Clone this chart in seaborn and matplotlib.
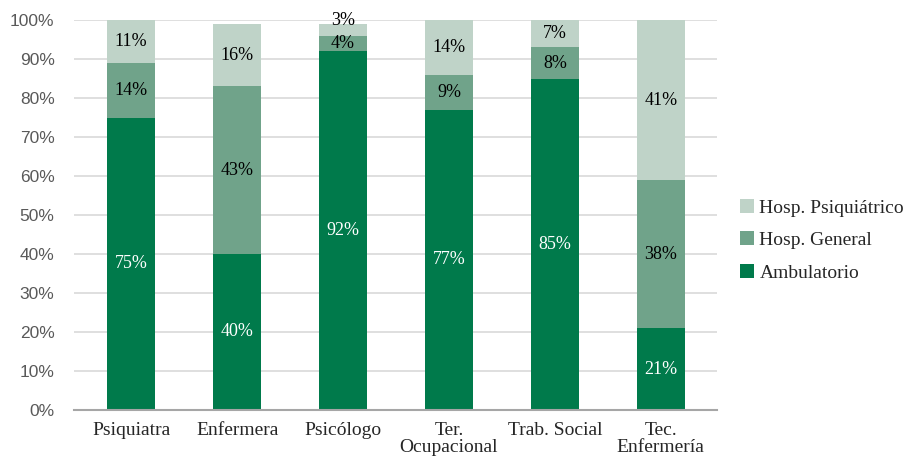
import pandas as pd
import matplotlib
matplotlib.use("Agg")
import matplotlib.pyplot as plt
import seaborn as sns
from matplotlib.patches import Patch
from matplotlib.ticker import PercentFormatter

# Data (percent of each profession)
categories = ["Psiquiatra", "Enfermera", "Psicólogo", "Ter.\nOcupacional",
              "Trab. Social", "Tec.\nEnfermería"]
ambulatorio = [75, 40, 92, 77, 85, 21]
hosp_general = [14, 43, 4, 9, 8, 38]
hosp_psiquiatrico = [11, 16, 3, 14, 7, 41]

series_names = ["Ambulatorio", "Hosp. General", "Hosp. Psiquiátrico"]
colors = ["#007A4B", "#70A38A", "#BFD3C8"]
label_colors = ["white", "black", "black"]

df = pd.DataFrame({
    "cat": categories,
    "Ambulatorio": ambulatorio,
    "Hosp. General": hosp_general,
    "Hosp. Psiquiátrico": hosp_psiquiatrico,
})

sns.set_style("white")
serif = ["Liberation Serif", "DejaVu Serif"]

fig = plt.figure(figsize=(9.18, 4.68), dpi=100)
ax = fig.add_axes([0.0806, 0.124, 0.7004, 0.833])

# stacked bars: draw cumulative totals from top layer down
cum = df[series_names].cumsum(axis=1)
for name, color in zip(reversed(series_names), reversed(colors)):
    sns.barplot(x="cat", y=cum[name], data=df.assign(**{name: cum[name]}),
                color=color, width=0.45, saturation=1, ax=ax,
                order=categories, linewidth=0, edgecolor="none", zorder=2)

# percentage labels at segment centres
for i in range(len(categories)):
    bottom = 0
    for name, lc in zip(series_names, label_colors):
        v = df[name][i]
        y = bottom + v / 2
        # thin top segment: label sits on the top edge, as in the source
        if v < 5 and name == "Hosp. Psiquiátrico":
            y = bottom + v + 1
        ax.text(i, y, f"{v}%", ha="center", va="center",
                color=lc, fontsize=13, family=serif, zorder=3, clip_on=False)
        bottom += v

ax.set_ylim(0, 100)
ax.set_xlim(-0.54, 5.53)
ax.set_yticks(range(0, 101, 10))
ax.yaxis.set_major_formatter(PercentFormatter(100, decimals=0))
ax.grid(axis="y", color="#D9D9D9", linewidth=1.2, zorder=0)
ax.set_axisbelow(True)
for s in ["left", "right", "top"]:
    ax.spines[s].set_visible(False)
ax.spines["bottom"].set_color("#A6A6A6")
ax.spines["bottom"].set_linewidth(1.5)
ax.set_xlabel("")
ax.set_ylabel("")
ax.tick_params(axis="both", length=0)
ax.tick_params(axis="y", pad=14, labelsize=12.5, labelcolor="#595959")
ax.tick_params(axis="x", pad=9, labelsize=14)
for t in ax.get_yticklabels():
    t.set_family(["Liberation Sans", "DejaVu Sans"])
for t in ax.get_xticklabels():
    t.set_family(serif)
    t.set_linespacing(0.95)

handles = [Patch(facecolor=c, edgecolor="none", label=n)
           for n, c in zip(series_names, colors)]
fig.legend(handles=handles[::-1], loc="center left",
           bbox_to_anchor=(0.806, 0.487), frameon=False,
           prop={"family": serif, "size": 14},
           handlelength=0.75, handleheight=0.75, handletextpad=0.25,
           labelspacing=0.75, borderpad=0, borderaxespad=0)

fig.savefig("out.png", dpi=100, facecolor="white")
